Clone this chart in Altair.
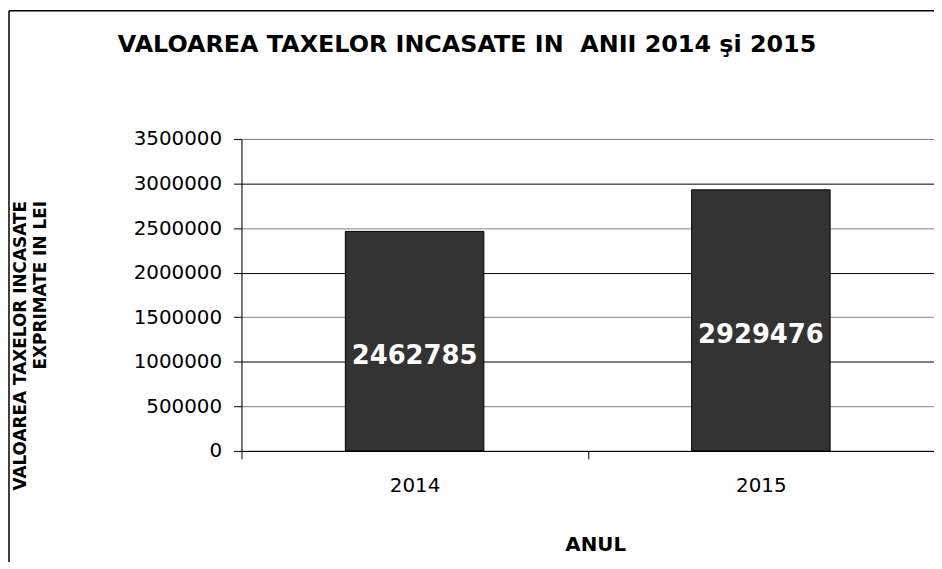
import altair as alt
import pandas as pd

title_text = "VALOAREA TAXELOR INCASATE IN \u00a0ANII 2014 şi 2015"
years = ["2014", "2015"]
values = [2462785, 2929476]
y_ticks = [0, 500000, 1000000, 1500000, 2000000, 2500000, 3000000, 3500000]

df = pd.DataFrame({"an": years, "valoare": values})

FONT = "DejaVu Sans"

x_enc = alt.X(
    "an:N",
    scale=alt.Scale(paddingInner=0, paddingOuter=0),
    axis=alt.Axis(
        title="ANUL",
        labelAngle=0,
        labelFont=FONT,
        labelFontSize=20,
        labelColor="black",
        labelPadding=17,
        tickBand="extent",
        tickSize=8,
        tickColor="black",
        domainColor="black",
        titleFont=FONT,
        titleFontSize=20,
        titleFontWeight="bold",
        titleColor="black",
        titleX=356,
        titleY=100,
        titleBaseline="alphabetic",
    ),
)

y_enc = alt.Y(
    "valoare:Q",
    scale=alt.Scale(domain=[0, 3500000], nice=False),
    axis=alt.Axis(
        values=y_ticks,
        format="d",
        title=["VALOAREA TAXELOR INCASATE", "EXPRIMATE IN LEI"],
        labelFont=FONT,
        labelFontSize=20,
        labelColor="black",
        labelPadding=12,
        tickSize=8,
        tickColor="black",
        domainColor="black",
        grid=True,
        gridColor={"condition": {"test": "datum.value % 1000000 === 0", "value": "black"}, "value": "#808080"},
        gridOpacity=1,
        titleFont=FONT,
        titleFontSize=17,
        titleFontWeight="bold",
        titleColor="black",
        titleAngle=-90,
        titleX=-222,
        titleY=62,
        titleAlign="right",
        titleBaseline="middle",
        titleLineHeight=20,
    ),
)

bars = alt.Chart(df).mark_bar(
    color="#333333", stroke="black", strokeWidth=1, width=alt.RelativeBandSize(0.4)
).encode(x=x_enc, y=y_enc)

labels = alt.Chart(df).transform_calculate(
    half="datum.valoare / 2"
).mark_text(
    font=FONT, fontSize=26, fontWeight="bold", color="white", baseline="middle", dy=15
).encode(
    x=alt.X("an:N"),
    y=alt.Y("half:Q"),
    text=alt.Text("valoare:Q", format="d"),
)

single = alt.Data(values=[{"t": title_text}])
title_mark = alt.Chart(single).mark_text(
    font=FONT, fontSize=24, fontWeight="bold", color="black", align="center", baseline="alphabetic"
).encode(x=alt.value(227), y=alt.value(-88), text="t:N")

left_border = alt.Chart(single).mark_rule(color="black", strokeWidth=1.5).encode(
    x=alt.value(-234), y=alt.value(-129), y2=alt.value(430)
)
top_border = alt.Chart(single).mark_rule(color="black", strokeWidth=1.5).encode(
    x=alt.value(-234), x2=alt.value(705), y=alt.value(-129)
)

chart = alt.layer(bars, labels, title_mark, left_border, top_border).properties(
    width=697,
    height=314,
    autosize=alt.AutoSizeParams(type="none"),
    padding={"left": 235, "top": 130, "right": 0, "bottom": 110},
).configure_view(
    fill="#f9f9f9", stroke="#808080", strokeWidth=1.5
).configure(background="white")

chart.save("out.html", embed_options={"renderer": "svg", "actions": False})
